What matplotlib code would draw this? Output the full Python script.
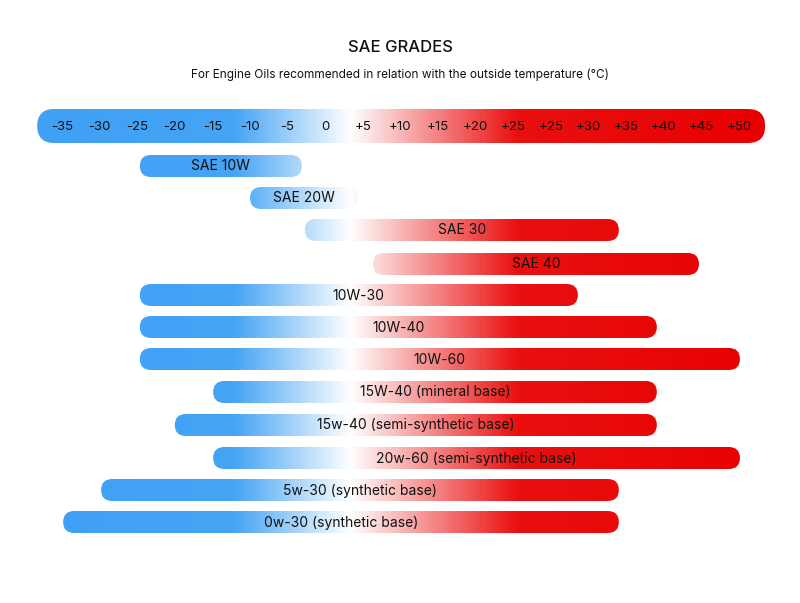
import matplotlib
matplotlib.use("Agg")
import matplotlib.pyplot as plt
import numpy as np
from matplotlib.patches import FancyBboxPatch
from matplotlib.colors import LinearSegmentedColormap

plt.rcParams['font.family'] = ['Inter', 'DejaVu Sans']

scale_labels = ["-35", "-30", "-25", "-20", "-15", "-10", "-5", "0", "+5", "+10",
                "+15", "+20", "+25", "+25", "+30", "+35", "+40", "+45", "+50"]
grades = ["SAE 10W", "SAE 20W", "SAE 30", "SAE 40", "10W-30", "10W-40", "10W-60",
          "15W-40 (mineral base)", "15w-40 (semi-synthetic base)",
          "20w-60 (semi-synthetic base)", "5w-30 (synthetic base)", "0w-30 (synthetic base)"]
# start / end in scale-position units (0 = -35 ... 18 = +50)
starts = [2.07, 5.0, 6.46, 8.27, 2.07, 2.07, 2.07, 4.02, 3.0, 4.02, 1.04, 0.03]
ends = [6.38, 7.87, 14.81, 16.94, 13.72, 15.82, 18.03, 15.82, 15.82, 18.03, 14.81, 14.81]

X0, DX = 62, 37.6
def px(i):
    return X0 + DX * np.asarray(i)

cmap = LinearSegmentedColormap.from_list("temp", [
    (0.0, "#3fa0f5"), (0.27, "#45a4f5"), (0.43, "#ffffff"),
    (0.66, "#ea1010"), (1.0, "#e80000")])
GX0, GX1 = 37, 765

fig = plt.figure(figsize=(8, 6.03), dpi=100)
ax = fig.add_axes([0, 0, 1, 1])
ax.set_xlim(0, 800)
ax.set_ylim(603, 0)
ax.axis("off")

grad = np.linspace(0, 1, 800).reshape(1, -1)

def bar(x0, x1, yc, h):
    patch = FancyBboxPatch((x0 + h / 2, yc), x1 - x0 - h, 0,
                           boxstyle="round,pad=%f,rounding_size=%f" % (h / 2 - 0.01, h / 2),
                           fc="none", ec="none")
    ax.add_patch(patch)
    im = ax.imshow(grad, cmap=cmap, extent=[GX0, GX1, yc + h / 2, yc - h / 2],
                   aspect="auto", interpolation="bilinear")
    im.set_clip_path(patch)

# scale bar
bar(px(-0.66), px(18.7), 126, 34)
for i, lab in enumerate(scale_labels):
    ax.text(px(i), 127, lab, ha="center", va="center", fontsize=9.5, color="#111111")

row_y = [166, 198, 230, 264, 295, 327, 359, 392, 425, 458, 490, 522]
for name, s, e, y in zip(grades, starts, ends, row_y):
    bar(px(s), px(e), y, 22)
    ax.text((px(s) + px(e)) / 2, y + 0.5, name, ha="center", va="center",
            fontsize=10, color="#111111")

ax.set_xlim(0, 800)
ax.set_ylim(603, 0)
ax.text(400, 48, "SAE GRADES", ha="center", va="center", fontsize=12,
        fontweight="medium", color="#111111")
ax.text(400, 75, "For Engine Oils recommended in relation with the outside temperature (°C)",
        ha="center", va="center", fontsize=8.5, color="#111111")

plt.savefig("out.png", dpi=100)
